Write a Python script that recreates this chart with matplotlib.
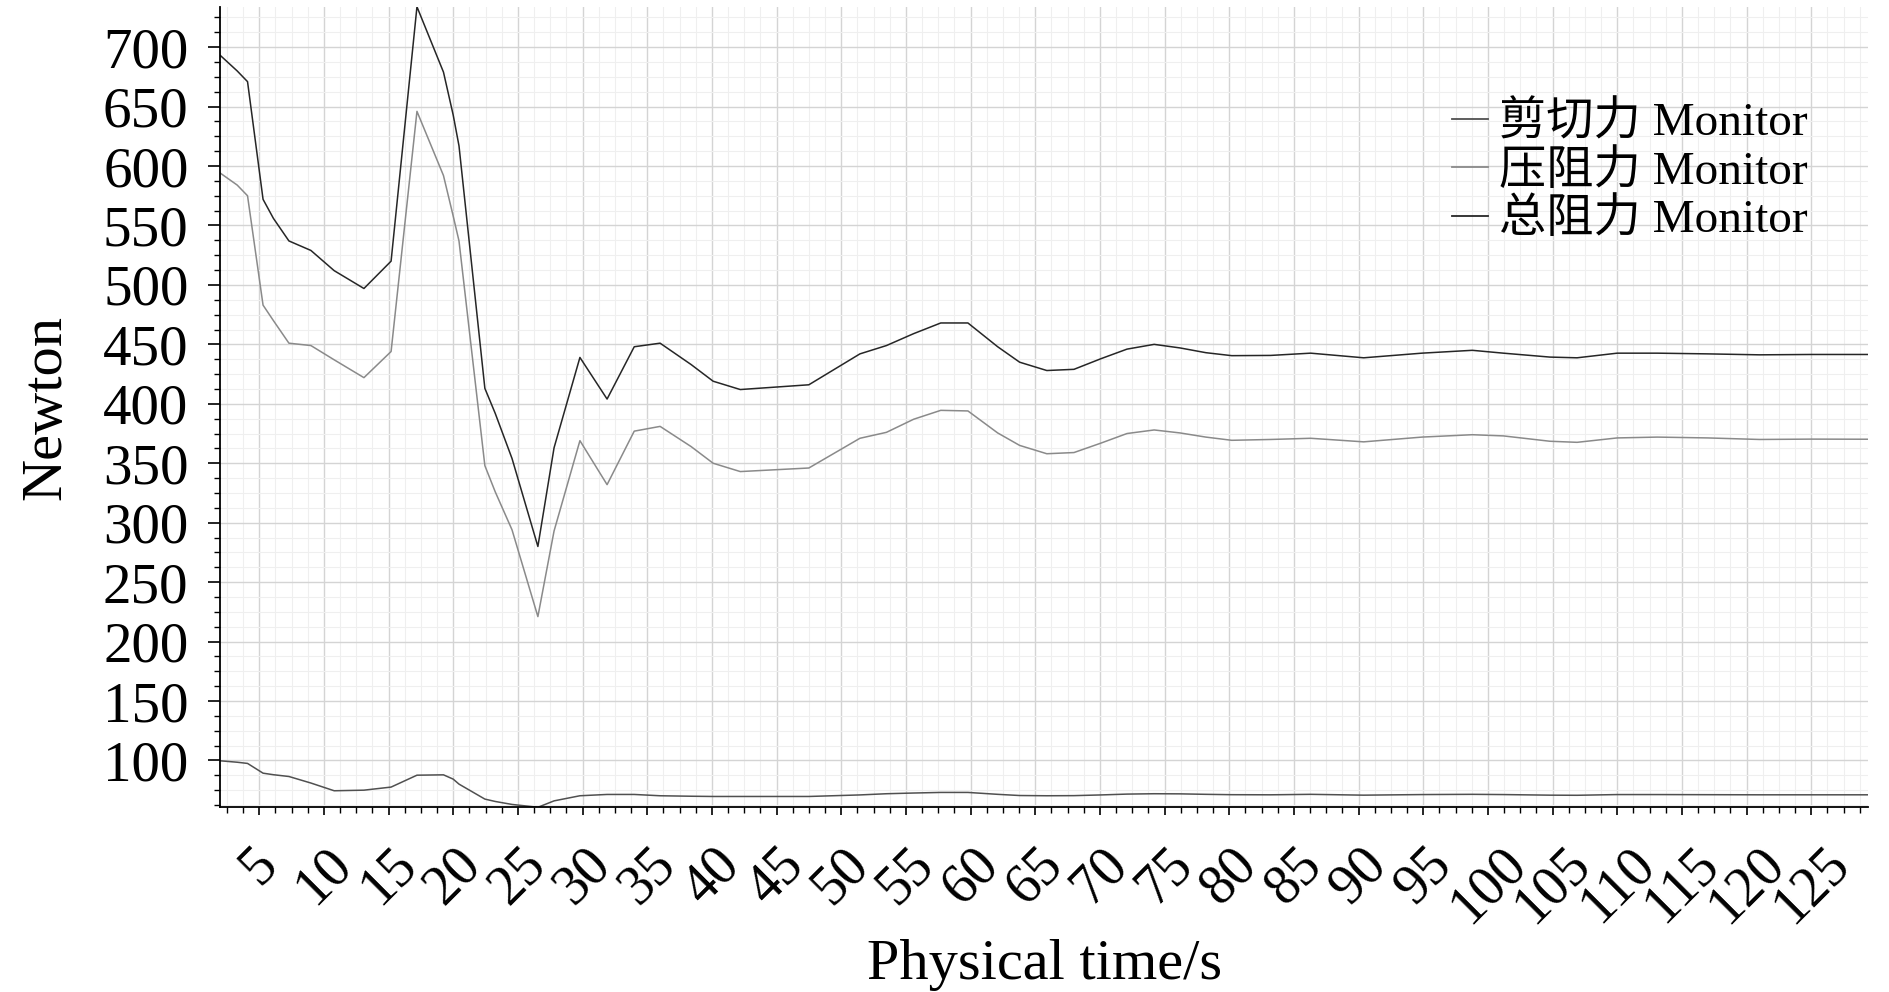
import matplotlib
matplotlib.use("Agg")
import matplotlib.pyplot as plt
from matplotlib.ticker import MultipleLocator, AutoMinorLocator
import numpy as np

# physical time (s) at the sampled points
time_s = [2.0, 3.3, 4.1, 5.3, 6.1, 7.3, 9.0, 10.8, 13.1, 15.2, 17.2, 19.25, 20.0, 20.45,
          22.45, 23.25, 24.55, 26.55, 27.8, 29.8, 31.9, 34.0, 36.0, 38.4, 40.1, 42.2,
          47.5, 51.45, 53.5, 55.6, 57.7, 59.8, 62.1, 63.8, 65.9, 68.0, 70.1, 72.1, 74.2,
          76.2, 78.2, 80.2, 83.2, 86.3, 90.4, 94.9, 98.8, 101.2, 104.8, 106.9, 110.0,
          113.1, 117.0, 121.0, 125.0, 129.4]

shear = [99.7, 98.5, 97.5, 89.3, 88.0, 86.5, 81.0, 74.5, 75.0, 77.6, 87.6, 87.9, 84.3, 80.1,
         67.5, 65.5, 63.0, 60.6, 66.0, 70.3, 71.4, 71.4, 70.3, 69.9, 69.7, 69.7,
         69.7, 71.0, 72.0, 72.6, 73.1, 73.1, 71.5, 70.5, 70.3, 70.4, 71.0, 71.7, 72.0,
         71.9, 71.5, 71.2, 71.1, 71.5, 70.8, 71.3, 71.5, 71.3, 70.8, 70.7, 71.3,
         71.3, 71.2, 71.1, 71.1, 71.1]

pressure = [594, 584, 575, 483, 470, 451, 449, 437, 422, 444, 646, 592, 558, 537,
            348, 326, 294, 221, 293, 369, 332, 377, 381, 364, 350, 343,
            346, 371, 376, 387, 394.5, 394, 375.5, 365, 358, 359, 367, 375, 378,
            375.5, 372, 369.3, 370, 371, 368, 372, 374, 373, 368.5, 367.6, 371.3,
            372, 371.3, 370, 370.3, 370.2]

total = [693, 680, 671, 572, 556, 537, 529, 512, 497, 520, 734, 679, 643, 617,
         413, 392, 354, 280, 363, 439, 404, 448, 451, 433, 419, 412,
         416, 442, 449, 459, 468, 468, 448, 435, 428, 429, 438, 446, 450,
         447, 443, 440.5, 440.7, 442.6, 438.7, 442.6, 445, 442.6, 439.3, 438.7, 442.6,
         442.6, 442, 441.2, 441.5, 441.5]

labels = ["剪切力 Monitor", "压阻力 Monitor", "总阻力 Monitor"]

serif = ['Liberation Serif', 'Noto Sans CJK SC', 'DejaVu Sans']
plt.rcParams['font.family'] = serif

fig = plt.figure(figsize=(18.9, 9.92), dpi=100)
ax = fig.add_axes([0.1166, 0.1862, 0.9884 - 0.1166, 0.9932 - 0.1862])

ax.plot(time_s, shear, color='#505050', lw=1.1, label=labels[0])
ax.plot(time_s, pressure, color='#8a8a8a', lw=1.1, label=labels[1])
ax.plot(time_s, total, color='#262626', lw=1.1, label=labels[2])

ax.set_xlim(time_s[0], time_s[-1])
ax.set_ylim(min(shear), max(total))

ax.xaxis.set_major_locator(MultipleLocator(5))
ax.xaxis.set_minor_locator(AutoMinorLocator(4))
ax.yaxis.set_major_locator(MultipleLocator(50))
ax.yaxis.set_minor_locator(AutoMinorLocator(4))

ax.grid(which='major', color='#d4d4d4', lw=1.0)
ax.grid(which='minor', color='#efefef', lw=0.8)
ax.set_axisbelow(True)

for s in ('top', 'right'):
    ax.spines[s].set_visible(False)
for s in ('left', 'bottom'):
    ax.spines[s].set_linewidth(1.3)

ax.tick_params(axis='y', which='major', length=9, width=1.2, labelsize=41, pad=14)
ax.tick_params(axis='y', which='minor', length=4, width=1.0)
ax.tick_params(axis='x', which='major', length=6, width=1.2, labelsize=40, pad=16)
ax.tick_params(axis='x', which='minor', length=4, width=1.0)
for lab in ax.get_xticklabels():
    lab.set_rotation(45)
    lab.set_ha('center')

ax.set_xlabel("Physical time/s", fontsize=42, labelpad=4)
ax.set_ylabel("Newton", fontsize=42, labelpad=22)

leg = ax.legend(loc='upper right', bbox_to_anchor=(0.975, 0.905), frameon=False,
                prop={'family': serif, 'size': 34}, handlelength=0.75,
                handletextpad=0.25, labelspacing=0.1, borderaxespad=0.0)
for h in leg.get_lines():
    h.set_linewidth(1.3)

fig.savefig('out.png', dpi=100)
